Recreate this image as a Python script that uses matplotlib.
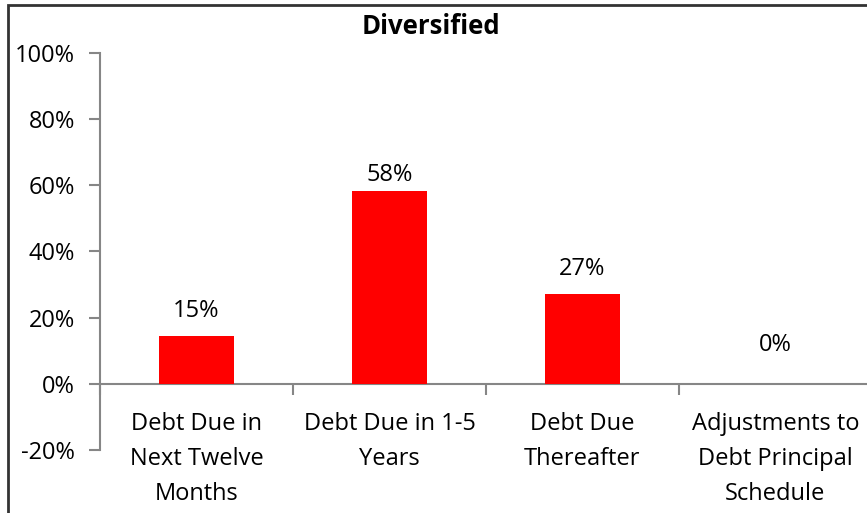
import matplotlib.pyplot as plt
import matplotlib.ticker as ticker
from matplotlib.patches import Rectangle
import numpy as np

categories = ['Debt Due in\nNext Twelve\nMonths', 'Debt Due in 1-5\nYears',
              'Debt Due\nThereafter', 'Adjustments to\nDebt Principal\nSchedule']
values = [0.145, 0.582, 0.273, 0.0]
labels = ['15%', '58%', '27%', '0%']
yticks = [-0.2, 0, 0.2, 0.4, 0.6, 0.8, 1.0]

plt.rcParams['font.family'] = ['Open Sans', 'DejaVu Sans']
axis_gray = '#868686'
fs = 17
# label gap above each bar, in points (Excel places them unevenly)
label_gap = [9.5, 3, 8.8, 19]

fig = plt.figure(figsize=(8.67, 5.13), dpi=100)
ax = fig.add_axes([100 / 867, 1 - 450 / 513, 772 / 867, 397 / 513])

x = np.arange(len(categories))
ax.bar(x, values, width=0.39, color='#ff0000', zorder=3)
for xi, v, lab, g in zip(x, values, labels, label_gap):
    ax.annotate(lab, (xi, v), xytext=(0, g), textcoords='offset points',
                ha='center', va='bottom', fontsize=fs)

ax.set_xlim(-0.5, 3.5)
ax.set_ylim(-0.2, 1.0)
ax.set_yticks(yticks)
ax.yaxis.set_major_formatter(ticker.FuncFormatter(lambda v, p: f'{v * 100:.0f}%'))

ax.spines['top'].set_visible(False)
ax.spines['right'].set_visible(False)
ax.spines['bottom'].set_position(('data', 0))
for s in ('left', 'bottom'):
    ax.spines[s].set_color(axis_gray)
    ax.spines[s].set_linewidth(1.5)

ax.set_xticks(x)
ax.set_xticklabels(categories, fontsize=fs, linespacing=1.6)
ax.set_xticks(np.arange(-0.5, 4.0, 1.0), minor=True)
ax.tick_params(axis='x', which='major', length=0, pad=20.5)
ax.tick_params(axis='x', which='minor', length=8, width=1.5, color=axis_gray, direction='out')
ax.tick_params(axis='y', length=8, width=1.5, color=axis_gray, labelsize=fs, pad=10)

fig.text(0.497, 1 - 27 / 513, 'Diversified', ha='center', va='center',
         fontsize=18.5, fontweight='bold')

# outer chart border, cut off on the right and bottom
fig.patches.append(Rectangle((8 / 867, -0.1), 1.2, 1 - 5 / 513 + 0.1,
                             transform=fig.transFigure, fill=False,
                             edgecolor='#333333', linewidth=2))

fig.savefig('out.png', dpi=100)
